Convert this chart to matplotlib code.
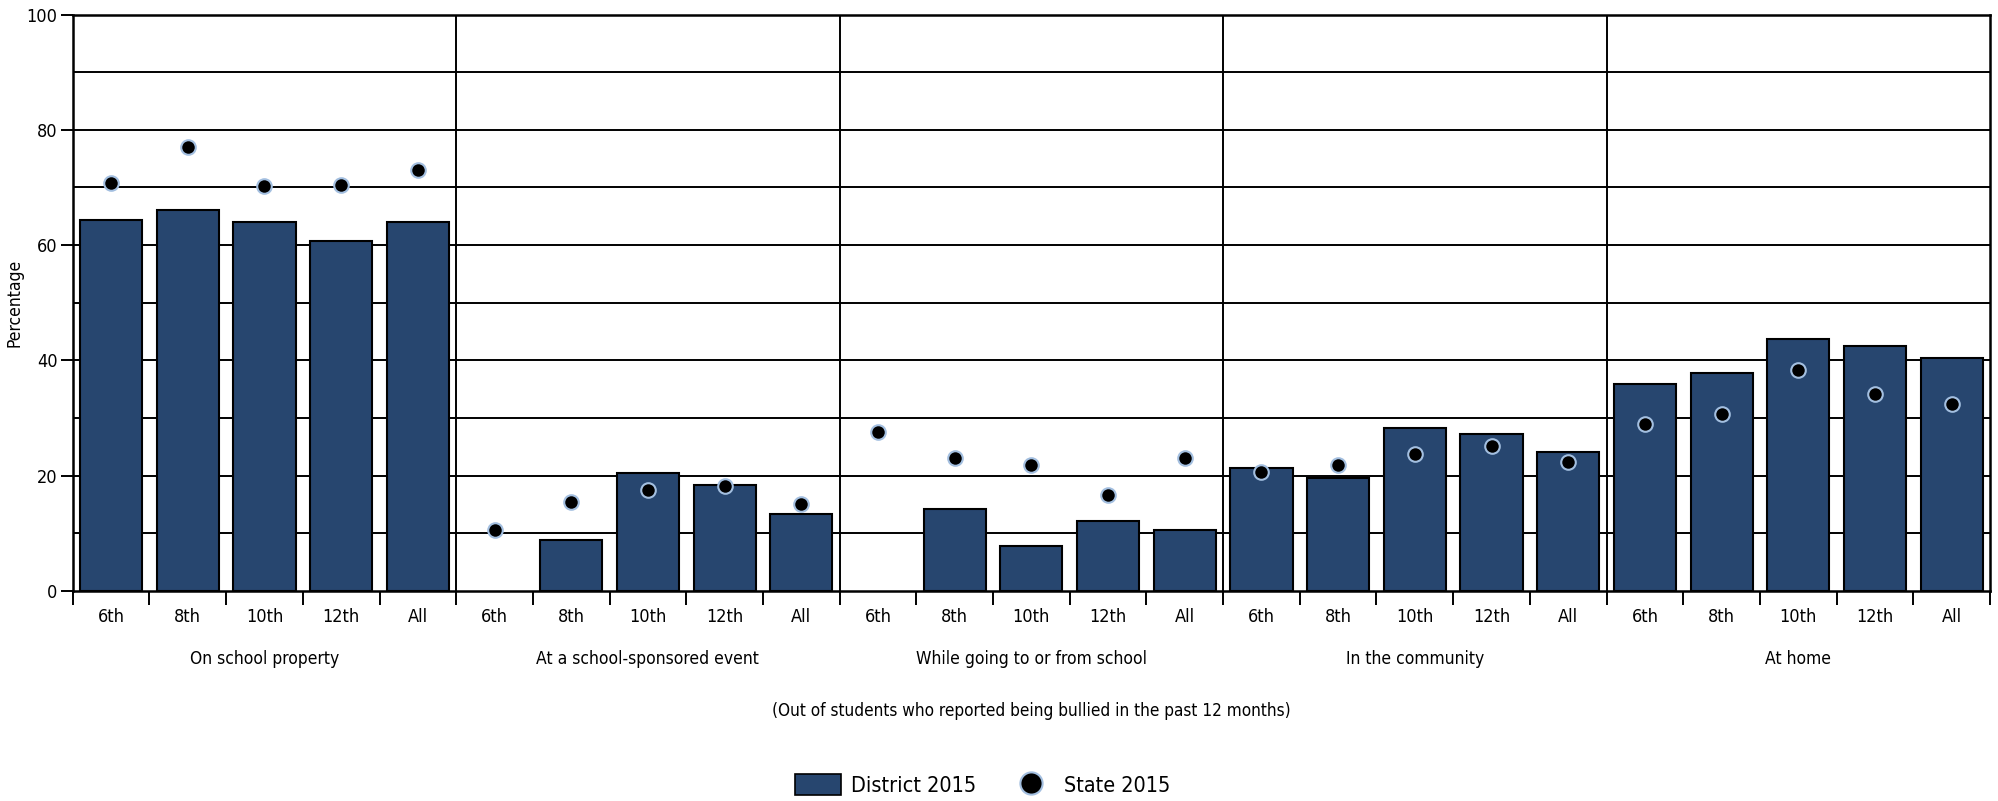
import matplotlib
matplotlib.use("Agg")
import matplotlib.pyplot as plt
from matplotlib.patches import Patch
from matplotlib.lines import Line2D

plt.rcParams['font.family'] = ['DejaVu Sans']
plt.rcParams['font.stretch'] = 'condensed'

grades = ["6th", "8th", "10th", "12th", "All"]
places = ["On school property", "At a school-sponsored event",
          "While going to or from school", "In the community", "At home"]

# District 2015 bars (None = no bar shown)
district_school = [64.4, 66.1, 64.1, 60.8, 64.1]
district_event = [None, 8.9, 20.5, 18.4, 13.4]
district_travel = [None, 14.3, 7.8, 12.1, 10.6]
district_community = [21.3, 19.6, 28.3, 27.3, 24.1]
district_home = [35.9, 37.8, 43.7, 42.5, 40.4]

# State 2015 dots
state_school = [70.8, 77.1, 70.3, 70.5, 73.0]
state_event = [10.5, 15.4, 17.6, 18.2, 15.1]
state_travel = [27.6, 23.0, 21.8, 16.7, 23.0]
state_community = [20.6, 21.8, 23.7, 25.1, 22.4]
state_home = [29.0, 30.7, 38.4, 34.2, 32.4]

district = [district_school, district_event, district_travel, district_community, district_home]
state = [state_school, state_event, state_travel, state_community, state_home]

bar_color = '#27466f'
dot_edge = '#a3bfe0'

fig = plt.figure(figsize=(19.99, 8.01), dpi=100)
ax = fig.add_axes([0.0364, 0.2622, 0.9591, 0.7196])

ng = len(grades)
for g in range(len(places)):
    xs = [g * ng + i + 0.5 for i in range(ng)]
    for x, v in zip(xs, district[g]):
        if v is not None:
            ax.bar(x, v, width=0.81, color=bar_color, edgecolor='black', linewidth=1.5, zorder=2)
    ax.scatter(xs, state[g], s=110, color='black', edgecolors=dot_edge, linewidths=1.5, zorder=3)

# horizontal grid every 10
for v in range(10, 100, 10):
    ax.axhline(v, color='black', lw=1.4, zorder=0)
# group separators
for g in range(1, len(places)):
    ax.axvline(g * ng, color='black', lw=1.4, zorder=1)

ax.set_xlim(0, len(places) * ng)
ax.set_ylim(0, 100)
for s in ax.spines.values():
    s.set_color('black')
    s.set_linewidth(1.8)

ax.set_yticks(range(0, 101, 20))
ax.tick_params(axis='y', length=9, width=1.4, labelsize=13, pad=2)
ax.set_xticks(range(0, len(places) * ng + 1))
ax.set_xticklabels([])
ax.tick_params(axis='x', which='major', length=10, width=1.4)
ax.set_xticks([i + 0.5 for i in range(len(places) * ng)], minor=True)
ax.set_xticklabels(grades * len(places), minor=True)
ax.tick_params(axis='x', which='minor', length=0, labelsize=13, pad=12)

ax.set_ylabel('Percentage', fontsize=12.5, labelpad=2)

for g, name in enumerate(places):
    ax.text(g * ng + ng / 2, -0.118, name, transform=ax.get_xaxis_transform(),
            ha='center', va='center', fontsize=12.5)

ax.text(0.5, -0.208, '(Out of students who reported being bullied in the past 12 months)',
        transform=ax.transAxes, ha='center', va='center', fontsize=12.3)

handles = [Patch(facecolor=bar_color, edgecolor='black', linewidth=1.2, label='District 2015'),
           Line2D([], [], marker='o', linestyle='none', markersize=16, markerfacecolor='black',
                  markeredgecolor=dot_edge, markeredgewidth=1.5, label='State 2015')]
fig.legend(handles=handles, loc='center', bbox_to_anchor=(0.4915, 0.02), ncol=2, frameon=False,
           fontsize=15.5, handlelength=2.15, handleheight=1.16, columnspacing=1.45,
           handletextpad=0.47, borderpad=0.2)

fig.savefig('out.png', dpi=100)
